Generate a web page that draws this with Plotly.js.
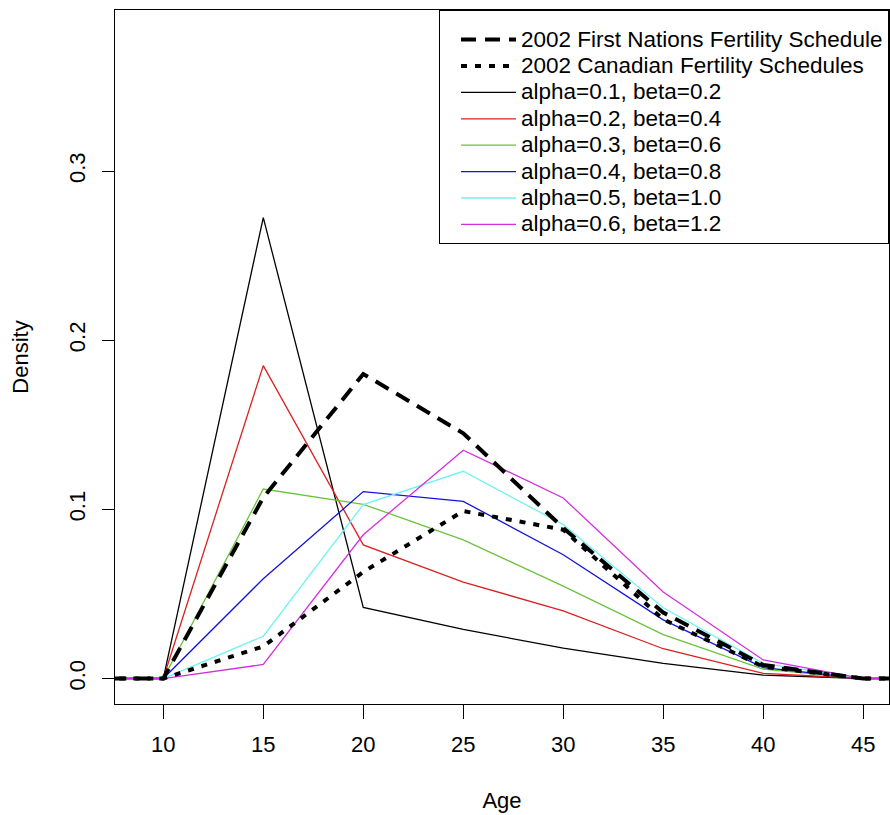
<!DOCTYPE html>
<html>
<head>
<meta charset="utf-8">
<script src="https://cdn.plot.ly/plotly-3.0.1.min.js"></script>
<style>
html,body{margin:0;padding:0;background:#fff;}
#chart{width:890px;height:815px;}
</style>
</head>
<body>
<div id="chart"></div>
<script>
// Ages (x values)
const ages = [5, 10, 15, 20, 25, 30, 35, 40, 45, 50];

// Series values (density)
const firstNations2002 = [0, 0, 0.107, 0.180, 0.145, 0.089, 0.039, 0.008, 0, 0];
const canadian2002     = [0, 0, 0.019, 0.063, 0.099, 0.088, 0.035, 0.007, 0, 0];
const a01b02 = [0, 0, 0.2725, 0.042, 0.029, 0.018, 0.009, 0.002, 0, 0];
const a02b04 = [0, 0, 0.185, 0.079, 0.057, 0.040, 0.0176, 0.003, 0, 0];
const a03b06 = [0, 0, 0.112, 0.103, 0.082, 0.0546, 0.026, 0.0055, 0, 0];
const a04b08 = [0, 0, 0.059, 0.1105, 0.1047, 0.0732, 0.0347, 0.0065, 0, 0];
const a05b10 = [0, 0, 0.025, 0.1028, 0.1225, 0.091, 0.0418, 0.009, 0, 0];
const a06b12 = [0, 0, 0.0083, 0.085, 0.135, 0.1067, 0.0511, 0.011, 0, 0];

// Legend labels
const seriesNames = [
  "2002 First Nations Fertility Schedule",
  "2002 Canadian Fertility Schedules",
  "alpha=0.1, beta=0.2",
  "alpha=0.2, beta=0.4",
  "alpha=0.3, beta=0.6",
  "alpha=0.4, beta=0.8",
  "alpha=0.5, beta=1.0",
  "alpha=0.6, beta=1.2"
];
const xTicks = [10, 15, 20, 25, 30, 35, 40, 45];
const yTicks = [0, 0.1, 0.2, 0.3];
const yTickText = ["0.0", "0.1", "0.2", "0.3"];

const seriesValues = [firstNations2002, canadian2002, a01b02, a02b04, a03b06, a04b08, a05b10, a06b12];
const seriesColors = ["#000000", "#000000", "#000000", "#D82222", "#6CC23E", "#1414D8", "#70F2F2", "#D42FDE"];
const seriesDash = ["15px,9px", "6px,8px", "solid", "solid", "solid", "solid", "solid", "solid"];
const seriesWidth = [4, 4, 1.3, 1.3, 1.3, 1.3, 1.3, 1.3];

// legend text drawn larger than the legend row spacing font
const legendTextSize = 22.5;

// draw thin lines first, thick black ones on top, keep legend order
const order = [2, 3, 4, 5, 6, 7, 1, 0];
const traces = order.map(i => ({
  x: ages,
  y: seriesValues[i],
  type: "scatter",
  mode: "lines",
  name: '<span style="font-size:' + legendTextSize + 'px">' + seriesNames[i] + '</span>',
  legendrank: i + 1,
  line: {color: seriesColors[i], width: seriesWidth[i], dash: seriesDash[i]},
  hoverinfo: "x+y"
}));

const font = {family: "'Liberation Sans', Arial, Helvetica, sans-serif", color: "#000"};

const layout = {
  width: 890, height: 815,
  margin: {l: 115, r: 1, t: 10, b: 111, pad: 0},
  paper_bgcolor: "#fff", plot_bgcolor: "#fff",
  font: Object.assign({size: 22}, font),
  showlegend: true,
  legend: {
    x: 1, y: 1, xanchor: "right", yanchor: "top",
    bgcolor: "#fff", bordercolor: "#000", borderwidth: 1,
    font: Object.assign({size: 18}, font),
    title: {text: " ", font: Object.assign({size: 8}, font)},
    itemwidth: 55, indentation: 16, tracegroupgap: 0, traceorder: "normal"
  },
  xaxis: {
    range: [7.585, 46.29],
    tickmode: "array", tickvals: xTicks, ticktext: xTicks.map(String),
    ticks: "outside", ticklen: 14, tickwidth: 1, tickcolor: "#000",
    showline: true, linecolor: "#000", linewidth: 1, mirror: true,
    showgrid: false, zeroline: false,
    tickfont: Object.assign({size: 22}, font),
    ticklabelstandoff: 7,
    title: {text: "Age", font: Object.assign({size: 22}, font), standoff: 36},
    automargin: false
  },
  yaxis: {
    range: [-0.01506, 0.3952],
    tickmode: "array", tickvals: yTicks, ticktext: yTickText,
    ticks: "outside", ticklen: 12, tickwidth: 1, tickcolor: "#000",
    tickangle: -90,
    showline: true, linecolor: "#000", linewidth: 1, mirror: true,
    showgrid: false, zeroline: false,
    tickfont: Object.assign({size: 22}, font),
    ticklabelstandoff: 8,
    title: {text: "Density", font: Object.assign({size: 22}, font), standoff: 30},
    automargin: false
  }
};

Plotly.newPlot("chart", traces, layout, {displayModeBar: false, staticPlot: true});
</script>
</body>
</html>
